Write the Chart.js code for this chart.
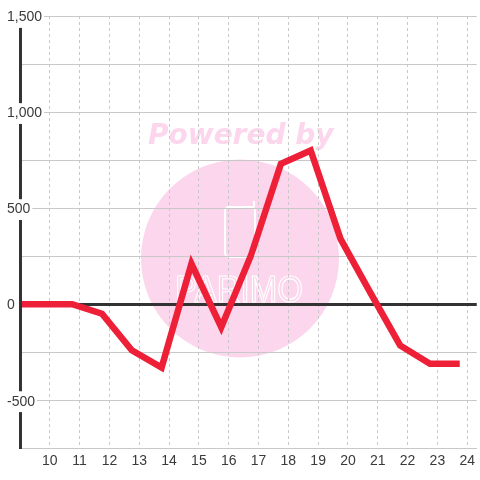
<!DOCTYPE html>
<html>
<head>
<meta charset="utf-8">
<script src="https://cdn.jsdelivr.net/npm/chart.js@4/dist/chart.umd.min.js"></script>
<style>
  html, body { margin: 0; padding: 0; background: #ffffff; }
  #wrap { width: 480px; height: 480px; }
</style>
</head>
<body>
<div id="wrap"><canvas id="c" width="480" height="480"></canvas></div>
<script>
// ---- data ----
const xPositions = [8.75, 9.75, 10.75, 11.75, 12.75, 13.75, 14.75, 15.75, 16.75, 17.75, 18.75, 19.75, 20.75, 21.75, 22.75, 23.75];
const seriesValues = [0, 0, 0, -50, -240, -330, 210, -120, 255, 730, 800, 340, 60, -215, -310, -310];
const xTickLabels = [10, 11, 12, 13, 14, 15, 16, 17, 18, 19, 20, 21, 22, 23, 24];
const yLabelledTicks = [-500, 0, 500, 1000, 1500];

const watermark = {
  id: 'watermark',
  beforeDraw(chart) {
    const ctx = chart.ctx;
    ctx.save();
    ctx.fillStyle = '#ffffff';
    ctx.fillRect(0, 0, chart.width, chart.height);
    const pink = 'rgb(252, 214, 236)';
    ctx.fillStyle = pink;
    ctx.beginPath();
    ctx.arc(240, 258.5, 99, 0, Math.PI * 2);
    ctx.fill();
    ctx.font = 'bold oblique 28px "DejaVu Sans"';
    ctx.textBaseline = 'alphabetic';
    ctx.textAlign = 'left';
    ctx.fillText('Powered by', 148, 144);
    // logo
    ctx.strokeStyle = '#ffffff';
    ctx.lineWidth = 2;
    ctx.beginPath();
    ctx.roundRect(225, 207, 30, 50, 4);
    ctx.stroke();
    ctx.beginPath();
    ctx.moveTo(254, 207);
    ctx.lineTo(254, 201);
    ctx.stroke();
    ctx.lineWidth = 1.2;
    ctx.font = '36px "Liberation Sans Narrow", "Liberation Sans"';
    ctx.textAlign = 'center';
    ctx.strokeText('PARIMO', 239, 302, 128);
    ctx.restore();
  }
};

new Chart(document.getElementById('c'), {
  type: 'line',
  data: {
    datasets: [{
      data: xPositions.map((x, i) => ({ x: x, y: seriesValues[i] })),
      borderColor: 'rgb(238, 32, 56)',
      borderWidth: 6.5,
      pointRadius: 0,
      pointHoverRadius: 0,
      tension: 0,
      fill: false,
      borderJoinStyle: 'miter',
      borderCapStyle: 'butt'
    }]
  },
  options: {
    responsive: false,
    animation: false,
    devicePixelRatio: 1,
    layout: { padding: { left: 7, top: 16, right: 0, bottom: 5 } },
    plugins: { legend: { display: false }, tooltip: { enabled: false } },
    scales: {
      x: {
        type: 'linear',
        min: 9,
        max: 24.32,
        afterBuildTicks: (s) => { s.ticks = xTickLabels.map(v => ({ value: v })); },
        ticks: {
          autoSkip: false,
          maxRotation: 0,
          padding: 5,
          color: '#3a3a3a',
          font: { family: '"Liberation Sans", Arial, sans-serif', size: 14 },
          callback: (v) => String(v)
        },
        grid: { color: '#c8c8c8', lineWidth: 1, drawTicks: false },
        border: { color: '#c8c8c8', width: 1, dash: [3, 3] }
      },
      y: {
        min: -750,
        max: 1500,
        afterFit: (s) => { s.width = 13; },
        ticks: {
          stepSize: 250,
          mirror: true,
          crossAlign: 'near',
          padding: -13,
          labelOffset: 1.5,
          z: 2,
          color: '#3a3a3a',
          font: { family: '"Liberation Sans", Arial, sans-serif', size: 14 },
          callback: (v) => yLabelledTicks.includes(v) ? v.toLocaleString('en-US') : '',
          showLabelBackdrop: (ctx) => !!(ctx.tick && yLabelledTicks.includes(ctx.tick.value)),
          backdropColor: '#ffffff',
          backdropPadding: 2
        },
        grid: {
          drawTicks: false,
          color: (ctx) => (ctx.tick && ctx.tick.value === 0) ? '#333333' : '#c8c8c8',
          lineWidth: (ctx) => (ctx.tick && ctx.tick.value === 0) ? 3 : 1
        },
        border: { color: '#333333', width: 3, z: 1 }
      }
    }
  },
  plugins: [watermark]
});
</script>
</body>
</html>
